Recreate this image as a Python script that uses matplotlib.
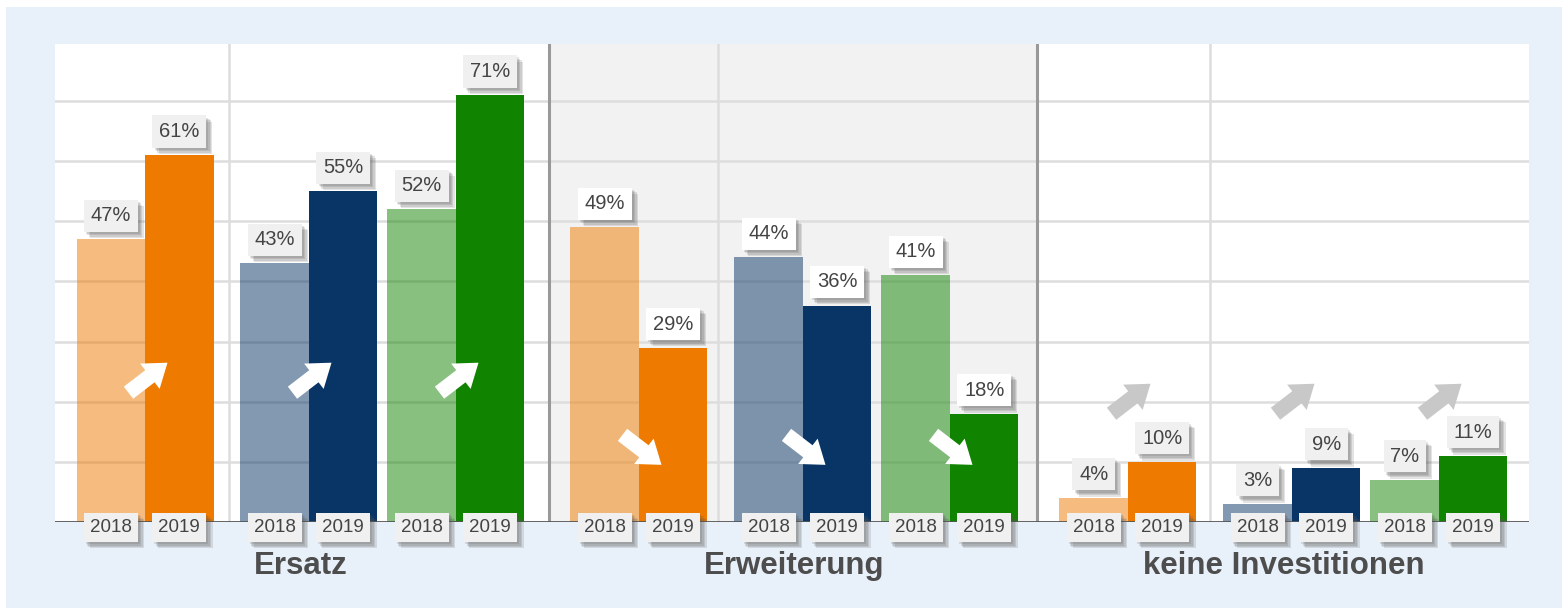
import numpy as np
import matplotlib
matplotlib.use('Agg')
import matplotlib.pyplot as plt
import matplotlib.patheffects as pe
from matplotlib.patches import Rectangle

plt.rcParams['font.family'] = ['Liberation Sans', 'DejaVu Sans']

# data
groups = ['Ersatz', 'Erweiterung', 'keine Investitionen']
years = ['2018', '2019']
vals_2018 = [47, 43, 52, 49, 44, 41, 4, 3, 7]
vals_2019 = [61, 55, 71, 29, 36, 18, 10, 9, 11]

# layout (pixel-like x units)
group_start = [145, 639, 1128]
pair_offset = [0, 164, 311]
bar_w = 68.5
series_colors = ['#EE7B00', '#083566', '#108300']
arrow_y = [24, 12, 20.5]
arrow_color = ['white', 'white', '#C8C8C8']
grey_span = (549, 1037)
light_vlines = [229, 718, 1210]
dark_vlines = [549, 1037]

W, H = 1562, 608
fig = plt.figure(figsize=(W / 100, H / 100), dpi=100, facecolor='white')
fig.patches.append(Rectangle((6 / W, 0), 1, 1 - 7 / H, transform=fig.transFigure,
                             facecolor='#E8F0F9', edgecolor='none', zorder=-10))

ax = fig.add_axes([55 / W, (H - 522) / H, (1529 - 55) / W, (522 - 44) / H])
ax.set_xlim(55, 1529)
ax.set_ylim(0, 79.5)
ax.set_facecolor('white')
for s in ax.spines.values():
    s.set_visible(False)
ax.set_xticks([])
ax.set_yticks([])

px_per_pct = (522 - 44) / 79.5

ax.axvspan(grey_span[0], grey_span[1], color='#F2F2F2', zorder=0, lw=0)
for yv in range(10, 80, 10):
    ax.axhline(yv, color='#DDDDDD', lw=1.8, zorder=1)
for xv in light_vlines:
    ax.axvline(xv, color='#DDDDDD', lw=1.8, zorder=1)
for xv in dark_vlines:
    ax.axvline(xv, color='#999999', lw=2.2, zorder=1)
ax.axhline(0, color='#555555', lw=2, zorder=5)

centers = []
for g in range(3):
    for k in range(3):
        centers.append(group_start[g] + pair_offset[k])

# soft drop shadow: a few stacked offsets
shadow = [pe.withSimplePatchShadow(offset=(o, -o), shadow_rgbFace='#555555', alpha=0.16)
          for o in (4.5, 3.5, 2.5, 1.5)]

def label_box(x, y, txt, fc, size, yoff):
    t = ax.annotate(txt, xy=(x, y), xytext=(0, yoff), textcoords='offset points',
                    ha='center', va='center', fontsize=size, color='#444444',
                    bbox=dict(boxstyle='square,pad=0.33', fc=fc, ec='none'),
                    zorder=6, annotation_clip=False)
    t.get_bbox_patch().set_path_effects(shadow)

for i, c in enumerate(centers):
    g = i // 3
    col = series_colors[i % 3]
    v18, v19 = vals_2018[i], vals_2019[i]
    ax.bar(c - bar_w / 2, v18, width=bar_w, color=col, alpha=0.5, zorder=2, lw=0)
    ax.bar(c + bar_w / 2, v19, width=bar_w, color=col, zorder=2, lw=0)

    in_grey = grey_span[0] < c < grey_span[1]
    box_fc = 'white' if in_grey else '#F0F0F0'
    label_box(c - bar_w / 2, v18, f'{v18}%', box_fc, 14.5, 17)
    label_box(c + bar_w / 2, v19, f'{v19}%', box_fc, 14.5, 17)
    label_box(c - bar_w / 2, 0, years[0], '#F0F0F0', 13.5, -4)
    label_box(c + bar_w / 2, 0, years[1], '#F0F0F0', 13.5, -4)

    # trend arrow
    sgn = 1 if v19 > v18 else -1
    dx, dy = 39, 30 / px_per_pct * sgn
    ax0 = c + 3
    ay = arrow_y[g]
    ax.annotate('', xy=(ax0 + dx / 2, ay + dy / 2), xytext=(ax0 - dx / 2, ay - dy / 2),
                arrowprops=dict(arrowstyle='simple,head_length=0.8,head_width=1.15,tail_width=0.55',
                                mutation_scale=20, color=arrow_color[g], lw=0,
                                shrinkA=0, shrinkB=0),
                zorder=4)

for g, name in enumerate(groups):
    gx = (centers[g * 3] - bar_w + centers[g * 3 + 2] + bar_w) / 2
    ax.text(gx, -(566 - 522) / px_per_pct, name, ha='center', va='center',
            fontsize=22.5, fontweight='bold', color='#4D4D4D', clip_on=False)

fig.savefig('out.png', dpi=100, facecolor=fig.get_facecolor())
